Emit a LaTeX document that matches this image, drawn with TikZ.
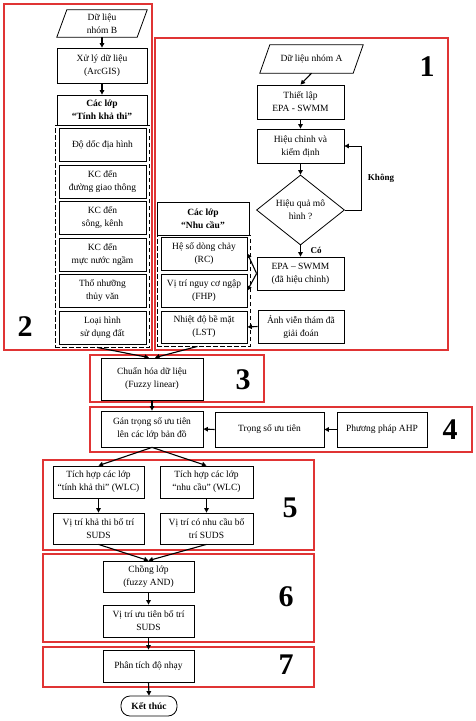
\documentclass[tikz,border=0pt]{standalone}
\usepackage{fontspec}
\setmainfont{Liberation Serif}
\usetikzlibrary{arrows.meta,shapes.geometric}
\definecolor{redc}{RGB}{224,52,52}
\begin{document}
\begin{tikzpicture}[x=1pt,y=-1pt,
  txt/.style={align=center,font=\fontsize{9.5}{13}\selectfont,inner sep=1pt},
  box/.style={txt,draw,line width=0.8pt},
  hdr/.style={box,font=\fontsize{9.5}{13}\selectfont\bfseries},
  dashbox/.style={draw,dash pattern=on 4.5pt off 2.5pt,line width=0.8pt,inner sep=0pt},
  redframe/.style={draw=redc,line width=1.2pt,inner sep=0pt},
  num/.style={font=\fontsize{30}{30}\selectfont\bfseries,inner sep=0pt},
  lbl/.style={font=\fontsize{9}{11}\selectfont\bfseries,inner sep=1pt},
  arr/.style={line width=1.1pt,-{Triangle[length=4.5pt,width=4.5pt]}},
  thinarr/.style={line width=0.8pt,-{Triangle[length=4.5pt,width=4.5pt]}},
]
\useasboundingbox (0,0) rectangle (476,721);
% red frames
\node[redframe,minimum width=148,minimum height=346] (r2) at (78,177) {};
\node[redframe,minimum width=293,minimum height=312] (r1) at (301.5,194) {};
\node[redframe,minimum width=174,minimum height=47] (r3) at (177,378.5) {};
\node[redframe,minimum width=382,minimum height=45] (r4) at (281,429.5) {};
\node[redframe,minimum width=271,minimum height=90] (r5) at (178.5,505) {};
\node[redframe,minimum width=271,minimum height=88] (r6) at (178.5,598) {};
\node[redframe,minimum width=271,minimum height=40] (r7) at (178.5,667) {};
% numbers
\node[num] (n1) at (427,67) {1};
\node[num] (n2) at (25,327) {2};
\node[num] (n3) at (243,380) {3};
\node[num] (n4) at (450,430) {4};
\node[num] (n5) at (290,508) {5};
\node[num] (n6) at (286,597) {6};
\node[num] (n7) at (286,665) {7};
% group 2
\node[txt,minimum width=80,minimum height=27] (dlB) at (102,23.5) {Dữ liệu\\nhóm B};
\draw[line width=0.8pt] ([xshift=-5]dlB.south west) -- ([xshift=5]dlB.north west) -- ([xshift=5]dlB.north east) -- ([xshift=-5]dlB.south east) -- cycle;
\node[box,minimum width=90,minimum height=35] (xuly) at (102,65.5) {Xử lý dữ liệu\\(ArcGIS)};
\node[hdr,minimum width=90,minimum height=30] (hdrB) at (102,110) {Các lớp\\“Tính khả thi”};
\node[dashbox,minimum width=94,minimum height=222] (dashB) at (102,236) {};
\node[box,minimum width=87,minimum height=33] (b1) at (102.5,145) {Độ dốc địa hình};
\node[box,minimum width=87,minimum height=33] (b2) at (102.5,181.5) {KC đến\\đường giao thông};
\node[box,minimum width=87,minimum height=33] (b3) at (102.5,218) {KC đến\\sông, kênh};
\node[box,minimum width=87,minimum height=33] (b4) at (102.5,254.5) {KC đến\\mực nước ngầm};
\node[box,minimum width=87,minimum height=33] (b5) at (102.5,291) {Thổ nhưỡng\\thủy văn};
\node[box,minimum width=87,minimum height=33] (b6) at (102.5,327.5) {Loại hình\\sử dụng đất};
% group 1
\node[txt,minimum width=93,minimum height=28] (dlA) at (311.5,59) {Dữ liệu nhóm A};
\draw[line width=0.8pt] ([xshift=-5]dlA.south west) -- ([xshift=5]dlA.north west) -- ([xshift=5]dlA.north east) -- ([xshift=-5]dlA.south east) -- cycle;
\node[box,minimum width=87,minimum height=34] (tl) at (300.5,102) {Thiết lập\\EPA - SWMM};
\node[box,minimum width=87,minimum height=34] (hc) at (300.5,146) {Hiệu chỉnh và\\kiểm định};
\node[txt,draw,line width=0.8pt,diamond,aspect=1.26,minimum width=88,minimum height=70,inner sep=0pt] (dia) at (300.5,210) {Hiệu quả mô\\hình ?};
\node[box,minimum width=87,minimum height=33] (epa) at (300.5,273.5) {EPA -- SWMM\\(đã hiệu chỉnh)};
\node[box,minimum width=86,minimum height=33] (anh) at (301,326.5) {Ảnh viễn thám đã\\giải đoán};
\node[hdr,minimum width=92,minimum height=33] (hdrA) at (203,218.5) {Các lớp\\“Nhu cầu”};
\node[dashbox,minimum width=93,minimum height=111] (dashA) at (203.5,290.5) {};
\node[box,minimum width=86,minimum height=33] (a1) at (204,253.5) {Hệ số dòng chảy\\(RC)};
\node[box,minimum width=86,minimum height=33] (a2) at (204,290.5) {Vị trí nguy cơ ngập\\(FHP)};
\node[box,minimum width=86,minimum height=32] (a3) at (204,327) {Nhiệt độ bề mặt\\(LST)};
\node[lbl] (kh) at (381,178) {Không};
\node[lbl] (co) at (316,250) {Có};
% group 3,4
\node[box,minimum width=102,minimum height=42] (chuan) at (152,379) {Chuẩn hóa dữ liệu\\(Fuzzy linear)};
\node[box,minimum width=102,minimum height=36] (gan) at (152,429) {Gán trọng số ưu tiên\\lên các lớp bản đồ};
\node[box,minimum width=109,minimum height=35] (ts) at (269.5,429.5) {Trọng số ưu tiên};
\node[box,minimum width=90,minimum height=35] (ahp) at (382,429.5) {Phương pháp AHP};
% group 5
\node[box,minimum width=91,minimum height=32] (th1) at (98.5,482) {Tích hợp các lớp\\“tính khả thi” (WLC)};
\node[box,minimum width=93,minimum height=32] (th2) at (206.5,482) {Tích hợp các lớp\\“nhu cầu” (WLC)};
\node[box,minimum width=91,minimum height=31] (vt1) at (98.5,528.5) {Vị trí khả thi bố trí\\SUDS};
\node[box,minimum width=93,minimum height=31] (vt2) at (206.5,528.5) {Vị trí có nhu cầu bố\\trí SUDS};
% group 6,7
\node[box,minimum width=91,minimum height=31] (chong) at (148.5,576.5) {Chồng lớp\\(fuzzy AND)};
\node[box,minimum width=91,minimum height=32] (vtut) at (148.5,621) {Vị trí ưu tiên bố trí\\SUDS};
\node[box,minimum width=91,minimum height=32] (pt) at (148.5,666) {Phân tích độ nhạy};
\node[box,font=\fontsize{9.5}{13}\selectfont\bfseries,rounded corners=9pt,minimum width=56,minimum height=20] (kt) at (149,706) {Kết thúc};
% connectors
\draw[arr] (dlB.south) -- (xuly.north);
\draw[arr] (xuly.south) -- (hdrB.north);
\draw[arr] (dlA.south) -- (tl.north);
\draw[arr] (tl.south) -- (hc.north);
\draw[arr] (hc.south) -- (dia.north);
\draw[thinarr] (dia.east) -- ++(16,0) |- (hc.east);
\draw[arr] (dia.south) -- (epa.north);
\draw[arr] (epa.west) -- (a1.east);
\draw[arr] (epa.west) -- (a2.east);
\draw[arr] (anh.west) -- (a3.east);
\draw[arr] ([xshift=-5]dashB.south) -- ([xshift=-3]chuan.north);
\draw[arr] ([xshift=-6]dashA.south) -- ([xshift=3]chuan.north);
\draw[arr] (chuan.south) -- (gan.north);
\draw[arr] (ahp.west) -- (ts.east);
\draw[arr] (ts.west) -- (gan.east);
\draw[arr] (gan.south) -- (th1.north);
\draw[arr] (gan.south) -- (th2.north);
\draw[arr] (th1.south) -- (vt1.north);
\draw[arr] (th2.south) -- (vt2.north);
\draw[arr] (vt1.south) -- (chong.north);
\draw[arr] (vt2.south) -- (chong.north);
\draw[arr] (chong.south) -- (vtut.north);
\draw[arr] (vtut.south) -- (pt.north);
\draw[arr] (pt.south) -- (kt.north);
\end{tikzpicture}
\end{document}
